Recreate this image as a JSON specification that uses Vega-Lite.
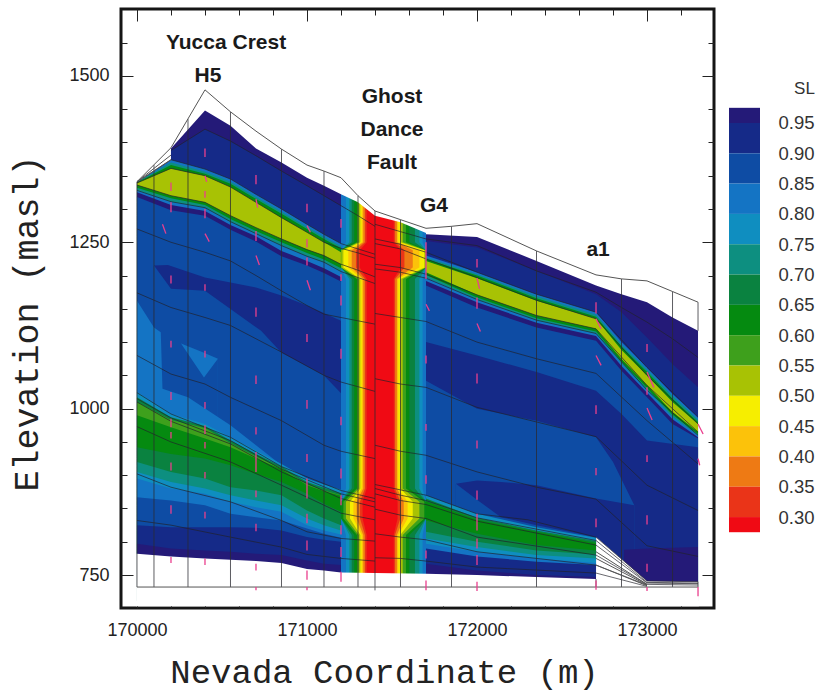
{"$schema":"https://vega.github.io/schema/vega-lite/v6.json","padding":{"left":7,"top":7,"right":0,"bottom":0},"background":"white","config":{"view":{"stroke":null},"font":"Liberation Sans"},
"datasets":{
"bands":[
{"g":"a0","sl":"0.975","x":170200,"y":1391},{"g":"a0","sl":"0.975","x":170400,"y":1448},{"g":"a0","sl":"0.975","x":170550,"y":1425},{"g":"a0","sl":"0.975","x":170700,"y":1391},{"g":"a0","sl":"0.975","x":170850,"y":1370},{"g":"a0","sl":"0.975","x":171000,"y":1347},{"g":"a0","sl":"0.975","x":171100,"y":1335},{"g":"a0","sl":"0.975","x":171200,"y":1322},
{"g":"a1","sl":"0.925","x":170200,"y":1388},{"g":"a1","sl":"0.925","x":170400,"y":1420},{"g":"a1","sl":"0.925","x":170550,"y":1402},{"g":"a1","sl":"0.925","x":170700,"y":1380},{"g":"a1","sl":"0.925","x":170850,"y":1357},{"g":"a1","sl":"0.925","x":171000,"y":1335},{"g":"a1","sl":"0.925","x":171100,"y":1320},{"g":"a1","sl":"0.925","x":171200,"y":1305},
{"g":"a2","sl":"0.825","x":170000,"y":1340},{"g":"a2","sl":"0.825","x":170200,"y":1374},{"g":"a2","sl":"0.825","x":170400,"y":1360},{"g":"a2","sl":"0.825","x":170550,"y":1345},{"g":"a2","sl":"0.825","x":170700,"y":1322},{"g":"a2","sl":"0.825","x":170850,"y":1300},{"g":"a2","sl":"0.825","x":171000,"y":1277},{"g":"a2","sl":"0.825","x":171100,"y":1262},{"g":"a2","sl":"0.825","x":171200,"y":1248},
{"g":"a3","sl":"0.725","x":170000,"y":1340},{"g":"a3","sl":"0.725","x":170200,"y":1370},{"g":"a3","sl":"0.725","x":170400,"y":1356},{"g":"a3","sl":"0.725","x":170550,"y":1341},{"g":"a3","sl":"0.725","x":170700,"y":1318},{"g":"a3","sl":"0.725","x":170850,"y":1296},{"g":"a3","sl":"0.725","x":171000,"y":1273},{"g":"a3","sl":"0.725","x":171100,"y":1258},{"g":"a3","sl":"0.725","x":171200,"y":1244},
{"g":"a4","sl":"0.625","x":170000,"y":1340},{"g":"a4","sl":"0.625","x":170200,"y":1366},{"g":"a4","sl":"0.625","x":170400,"y":1353},{"g":"a4","sl":"0.625","x":170550,"y":1338},{"g":"a4","sl":"0.625","x":170700,"y":1315},{"g":"a4","sl":"0.625","x":170850,"y":1293},{"g":"a4","sl":"0.625","x":171000,"y":1270},{"g":"a4","sl":"0.625","x":171100,"y":1255},{"g":"a4","sl":"0.625","x":171200,"y":1241},
{"g":"a5","sl":"0.525","x":170000,"y":1339},{"g":"a5","sl":"0.525","x":170200,"y":1361},{"g":"a5","sl":"0.525","x":170400,"y":1350},{"g":"a5","sl":"0.525","x":170550,"y":1333},{"g":"a5","sl":"0.525","x":170700,"y":1310},{"g":"a5","sl":"0.525","x":170850,"y":1287},{"g":"a5","sl":"0.525","x":171000,"y":1265},{"g":"a5","sl":"0.525","x":171100,"y":1250},{"g":"a5","sl":"0.525","x":171200,"y":1235},
{"g":"a6","sl":"0.625","x":170000,"y":1336},{"g":"a6","sl":"0.625","x":170200,"y":1320},{"g":"a6","sl":"0.625","x":170400,"y":1310},{"g":"a6","sl":"0.625","x":170550,"y":1290},{"g":"a6","sl":"0.625","x":170700,"y":1272},{"g":"a6","sl":"0.625","x":170850,"y":1255},{"g":"a6","sl":"0.625","x":171000,"y":1239},{"g":"a6","sl":"0.625","x":171100,"y":1230},{"g":"a6","sl":"0.625","x":171200,"y":1217},
{"g":"a7","sl":"0.725","x":170000,"y":1332},{"g":"a7","sl":"0.725","x":170200,"y":1316},{"g":"a7","sl":"0.725","x":170400,"y":1306},{"g":"a7","sl":"0.725","x":170550,"y":1285},{"g":"a7","sl":"0.725","x":170700,"y":1267},{"g":"a7","sl":"0.725","x":170850,"y":1250},{"g":"a7","sl":"0.725","x":171000,"y":1234},{"g":"a7","sl":"0.725","x":171100,"y":1224},{"g":"a7","sl":"0.725","x":171200,"y":1211},
{"g":"a8","sl":"0.825","x":170000,"y":1328},{"g":"a8","sl":"0.825","x":170200,"y":1311},{"g":"a8","sl":"0.825","x":170400,"y":1302},{"g":"a8","sl":"0.825","x":170550,"y":1281},{"g":"a8","sl":"0.825","x":170700,"y":1263},{"g":"a8","sl":"0.825","x":170850,"y":1245},{"g":"a8","sl":"0.825","x":171000,"y":1229},{"g":"a8","sl":"0.825","x":171100,"y":1220},{"g":"a8","sl":"0.825","x":171200,"y":1206},
{"g":"a9","sl":"0.975","x":170000,"y":1325},{"g":"a9","sl":"0.975","x":170200,"y":1306},{"g":"a9","sl":"0.975","x":170400,"y":1297},{"g":"a9","sl":"0.975","x":170550,"y":1276},{"g":"a9","sl":"0.975","x":170700,"y":1259},{"g":"a9","sl":"0.975","x":170850,"y":1237},{"g":"a9","sl":"0.975","x":171000,"y":1222},{"g":"a9","sl":"0.975","x":171100,"y":1211},{"g":"a9","sl":"0.975","x":171200,"y":1198},
{"g":"a10","sl":"0.875","x":170000,"y":1318},{"g":"a10","sl":"0.875","x":170200,"y":1298},{"g":"a10","sl":"0.875","x":170400,"y":1290},{"g":"a10","sl":"0.875","x":170550,"y":1269},{"g":"a10","sl":"0.875","x":170700,"y":1251},{"g":"a10","sl":"0.875","x":170850,"y":1229},{"g":"a10","sl":"0.875","x":171000,"y":1215},{"g":"a10","sl":"0.875","x":171100,"y":1204},{"g":"a10","sl":"0.875","x":171200,"y":1191},
{"g":"a11","sl":"0.925","x":170100,"y":1215},{"g":"a11","sl":"0.925","x":170182,"y":1216},{"g":"a11","sl":"0.925","x":170400,"y":1197},{"g":"a11","sl":"0.925","x":170700,"y":1182},{"g":"a11","sl":"0.925","x":170850,"y":1170},{"g":"a11","sl":"0.925","x":171000,"y":1155},{"g":"a11","sl":"0.925","x":171200,"y":1132},
{"g":"a12","sl":"0.875","x":170100,"y":1215},{"g":"a12","sl":"0.875","x":170200,"y":1180},{"g":"a12","sl":"0.875","x":170400,"y":1177},{"g":"a12","sl":"0.875","x":170730,"y":1117},{"g":"a12","sl":"0.875","x":170850,"y":1084},{"g":"a12","sl":"0.875","x":171100,"y":1050},{"g":"a12","sl":"0.875","x":171200,"y":1023},
{"g":"a13","sl":"0.825","x":170259,"y":1098},{"g":"a13","sl":"0.825","x":170394,"y":1084},{"g":"a13","sl":"0.825","x":170476,"y":1075},
{"g":"a14","sl":"0.875","x":170259,"y":1098},{"g":"a14","sl":"0.875","x":170394,"y":1047},{"g":"a14","sl":"0.875","x":170476,"y":1075},
{"g":"a15","sl":"0.825","x":170000,"y":1162},{"g":"a15","sl":"0.825","x":170100,"y":1122},{"g":"a15","sl":"0.825","x":170140,"y":1115},{"g":"a15","sl":"0.825","x":170150,"y":1030},{"g":"a15","sl":"0.825","x":170300,"y":1017},{"g":"a15","sl":"0.825","x":170550,"y":975},{"g":"a15","sl":"0.825","x":170700,"y":945},{"g":"a15","sl":"0.825","x":170850,"y":915},{"g":"a15","sl":"0.825","x":171000,"y":895},{"g":"a15","sl":"0.825","x":171100,"y":880},{"g":"a15","sl":"0.825","x":171200,"y":875},
{"g":"b0","sl":"0.775","x":170000,"y":1025},{"g":"b0","sl":"0.775","x":170200,"y":992},{"g":"b0","sl":"0.775","x":170400,"y":977},{"g":"b0","sl":"0.775","x":170550,"y":957},{"g":"b0","sl":"0.775","x":170700,"y":937},{"g":"b0","sl":"0.775","x":170850,"y":917},{"g":"b0","sl":"0.775","x":171000,"y":895},{"g":"b0","sl":"0.775","x":171100,"y":886},{"g":"b0","sl":"0.775","x":171200,"y":878},
{"g":"b1","sl":"0.675","x":170000,"y":1017},{"g":"b1","sl":"0.675","x":170200,"y":987},{"g":"b1","sl":"0.675","x":170400,"y":974},{"g":"b1","sl":"0.675","x":170550,"y":952},{"g":"b1","sl":"0.675","x":170700,"y":932},{"g":"b1","sl":"0.675","x":170850,"y":913},{"g":"b1","sl":"0.675","x":171000,"y":890},{"g":"b1","sl":"0.675","x":171100,"y":881},{"g":"b1","sl":"0.675","x":171200,"y":873},
{"g":"b2","sl":"0.575","x":170000,"y":1010},{"g":"b2","sl":"0.575","x":170200,"y":983},{"g":"b2","sl":"0.575","x":170400,"y":971},{"g":"b2","sl":"0.575","x":170550,"y":948},{"g":"b2","sl":"0.575","x":170700,"y":928},{"g":"b2","sl":"0.575","x":170850,"y":910},{"g":"b2","sl":"0.575","x":171000,"y":886},{"g":"b2","sl":"0.575","x":171100,"y":877},{"g":"b2","sl":"0.575","x":171200,"y":870},
{"g":"b3","sl":"0.625","x":170000,"y":990},{"g":"b3","sl":"0.625","x":170200,"y":972},{"g":"b3","sl":"0.625","x":170400,"y":955},{"g":"b3","sl":"0.625","x":170550,"y":942},{"g":"b3","sl":"0.625","x":170700,"y":925},{"g":"b3","sl":"0.625","x":170850,"y":909},{"g":"b3","sl":"0.625","x":171000,"y":885},{"g":"b3","sl":"0.625","x":171100,"y":876},{"g":"b3","sl":"0.625","x":171200,"y":869},
{"g":"b4","sl":"0.675","x":170000,"y":942},{"g":"b4","sl":"0.675","x":170200,"y":932},{"g":"b4","sl":"0.675","x":170400,"y":925},{"g":"b4","sl":"0.675","x":170550,"y":915},{"g":"b4","sl":"0.675","x":170700,"y":902},{"g":"b4","sl":"0.675","x":170850,"y":890},{"g":"b4","sl":"0.675","x":171000,"y":872},{"g":"b4","sl":"0.675","x":171100,"y":857},{"g":"b4","sl":"0.675","x":171200,"y":845},
{"g":"b5","sl":"0.725","x":170000,"y":920},{"g":"b5","sl":"0.725","x":170200,"y":905},{"g":"b5","sl":"0.725","x":170400,"y":895},{"g":"b5","sl":"0.725","x":170550,"y":882},{"g":"b5","sl":"0.725","x":170700,"y":877},{"g":"b5","sl":"0.725","x":170850,"y":870},{"g":"b5","sl":"0.725","x":171000,"y":847},{"g":"b5","sl":"0.725","x":171100,"y":835},{"g":"b5","sl":"0.725","x":171200,"y":825},
{"g":"b6","sl":"0.775","x":170000,"y":905},{"g":"b6","sl":"0.775","x":170200,"y":890},{"g":"b6","sl":"0.775","x":170400,"y":880},{"g":"b6","sl":"0.775","x":170550,"y":870},{"g":"b6","sl":"0.775","x":170700,"y":862},{"g":"b6","sl":"0.775","x":170850,"y":855},{"g":"b6","sl":"0.775","x":171000,"y":835},{"g":"b6","sl":"0.775","x":171100,"y":825},{"g":"b6","sl":"0.775","x":171200,"y":817},
{"g":"b7","sl":"0.825","x":170000,"y":895},{"g":"b7","sl":"0.825","x":170200,"y":880},{"g":"b7","sl":"0.825","x":170400,"y":872},{"g":"b7","sl":"0.825","x":170550,"y":860},{"g":"b7","sl":"0.825","x":170700,"y":852},{"g":"b7","sl":"0.825","x":170850,"y":845},{"g":"b7","sl":"0.825","x":171000,"y":825},{"g":"b7","sl":"0.825","x":171100,"y":817},{"g":"b7","sl":"0.825","x":171200,"y":811},
{"g":"b8","sl":"0.875","x":170000,"y":867},{"g":"b8","sl":"0.875","x":170200,"y":862},{"g":"b8","sl":"0.875","x":170400,"y":855},{"g":"b8","sl":"0.875","x":170550,"y":842},{"g":"b8","sl":"0.875","x":170700,"y":837},{"g":"b8","sl":"0.875","x":170850,"y":832},{"g":"b8","sl":"0.875","x":171000,"y":820},{"g":"b8","sl":"0.875","x":171100,"y":812},{"g":"b8","sl":"0.875","x":171200,"y":806},
{"g":"b9","sl":"0.925","x":170000,"y":825},{"g":"b9","sl":"0.925","x":170200,"y":822},{"g":"b9","sl":"0.925","x":170400,"y":822},{"g":"b9","sl":"0.925","x":170550,"y":822},{"g":"b9","sl":"0.925","x":170700,"y":821},{"g":"b9","sl":"0.925","x":170850,"y":817},{"g":"b9","sl":"0.925","x":171000,"y":807},{"g":"b9","sl":"0.925","x":171100,"y":803},{"g":"b9","sl":"0.925","x":171200,"y":800},
{"g":"b10","sl":"0.975","x":170000,"y":797},{"g":"b10","sl":"0.975","x":170200,"y":790},{"g":"b10","sl":"0.975","x":170400,"y":787},{"g":"b10","sl":"0.975","x":170550,"y":785},{"g":"b10","sl":"0.975","x":170700,"y":782},{"g":"b10","sl":"0.975","x":170850,"y":780},{"g":"b10","sl":"0.975","x":171000,"y":772},{"g":"b10","sl":"0.975","x":171100,"y":767},{"g":"b10","sl":"0.975","x":171200,"y":765},
{"g":"c0","sl":"0.975","x":171700,"y":1262},{"g":"c0","sl":"0.975","x":172000,"y":1258},{"g":"c0","sl":"0.975","x":172350,"y":1222},{"g":"c0","sl":"0.975","x":172700,"y":1185},{"g":"c0","sl":"0.975","x":172850,"y":1172},{"g":"c0","sl":"0.975","x":173000,"y":1160},{"g":"c0","sl":"0.975","x":173150,"y":1137},{"g":"c0","sl":"0.975","x":173300,"y":1117},
{"g":"c1","sl":"0.925","x":171700,"y":1252},{"g":"c1","sl":"0.925","x":172000,"y":1242},{"g":"c1","sl":"0.925","x":172350,"y":1207},{"g":"c1","sl":"0.925","x":172700,"y":1172},{"g":"c1","sl":"0.925","x":172850,"y":1145},{"g":"c1","sl":"0.925","x":173000,"y":1107},{"g":"c1","sl":"0.925","x":173150,"y":1067},{"g":"c1","sl":"0.925","x":173300,"y":1032},
{"g":"c2","sl":"0.825","x":171700,"y":1230},{"g":"c2","sl":"0.825","x":172000,"y":1205},{"g":"c2","sl":"0.825","x":172350,"y":1172},{"g":"c2","sl":"0.825","x":172700,"y":1145},{"g":"c2","sl":"0.825","x":172850,"y":1100},{"g":"c2","sl":"0.825","x":173000,"y":1062},{"g":"c2","sl":"0.825","x":173150,"y":1022},{"g":"c2","sl":"0.825","x":173300,"y":987},
{"g":"c3","sl":"0.725","x":171700,"y":1227},{"g":"c3","sl":"0.725","x":172000,"y":1202},{"g":"c3","sl":"0.725","x":172350,"y":1169},{"g":"c3","sl":"0.725","x":172700,"y":1141},{"g":"c3","sl":"0.725","x":172850,"y":1096},{"g":"c3","sl":"0.725","x":173000,"y":1058},{"g":"c3","sl":"0.725","x":173150,"y":1019},{"g":"c3","sl":"0.725","x":173300,"y":983},
{"g":"c4","sl":"0.625","x":171700,"y":1225},{"g":"c4","sl":"0.625","x":172000,"y":1200},{"g":"c4","sl":"0.625","x":172350,"y":1166},{"g":"c4","sl":"0.625","x":172700,"y":1138},{"g":"c4","sl":"0.625","x":172850,"y":1093},{"g":"c4","sl":"0.625","x":173000,"y":1055},{"g":"c4","sl":"0.625","x":173150,"y":1015},{"g":"c4","sl":"0.625","x":173300,"y":980},
{"g":"c5","sl":"0.525","x":171700,"y":1222},{"g":"c5","sl":"0.525","x":172000,"y":1196},{"g":"c5","sl":"0.525","x":172350,"y":1162},{"g":"c5","sl":"0.525","x":172700,"y":1135},{"g":"c5","sl":"0.525","x":172850,"y":1088},{"g":"c5","sl":"0.525","x":173000,"y":1050},{"g":"c5","sl":"0.525","x":173150,"y":1010},{"g":"c5","sl":"0.525","x":173300,"y":977},
{"g":"c6","sl":"0.625","x":171700,"y":1205},{"g":"c6","sl":"0.625","x":172000,"y":1171},{"g":"c6","sl":"0.625","x":172350,"y":1140},{"g":"c6","sl":"0.625","x":172700,"y":1120},{"g":"c6","sl":"0.625","x":172850,"y":1075},{"g":"c6","sl":"0.625","x":173000,"y":1035},{"g":"c6","sl":"0.625","x":173150,"y":995},{"g":"c6","sl":"0.625","x":173300,"y":965},
{"g":"c7","sl":"0.725","x":171700,"y":1201},{"g":"c7","sl":"0.725","x":172000,"y":1167},{"g":"c7","sl":"0.725","x":172350,"y":1136},{"g":"c7","sl":"0.725","x":172700,"y":1116},{"g":"c7","sl":"0.725","x":172850,"y":1071},{"g":"c7","sl":"0.725","x":173000,"y":1031},{"g":"c7","sl":"0.725","x":173150,"y":991},{"g":"c7","sl":"0.725","x":173300,"y":962},
{"g":"c8","sl":"0.825","x":171700,"y":1197},{"g":"c8","sl":"0.825","x":172000,"y":1164},{"g":"c8","sl":"0.825","x":172350,"y":1133},{"g":"c8","sl":"0.825","x":172700,"y":1113},{"g":"c8","sl":"0.825","x":172850,"y":1068},{"g":"c8","sl":"0.825","x":173000,"y":1028},{"g":"c8","sl":"0.825","x":173150,"y":988},{"g":"c8","sl":"0.825","x":173300,"y":960},
{"g":"c9","sl":"0.975","x":171700,"y":1192},{"g":"c9","sl":"0.975","x":172000,"y":1160},{"g":"c9","sl":"0.975","x":172350,"y":1129},{"g":"c9","sl":"0.975","x":172700,"y":1109},{"g":"c9","sl":"0.975","x":172850,"y":1064},{"g":"c9","sl":"0.975","x":173000,"y":1024},{"g":"c9","sl":"0.975","x":173150,"y":984},{"g":"c9","sl":"0.975","x":173300,"y":957},
{"g":"c10","sl":"0.875","x":171700,"y":1185},{"g":"c10","sl":"0.875","x":172000,"y":1152},{"g":"c10","sl":"0.875","x":172350,"y":1122},{"g":"c10","sl":"0.875","x":172700,"y":1102},{"g":"c10","sl":"0.875","x":172850,"y":1057},{"g":"c10","sl":"0.875","x":173000,"y":1017},{"g":"c10","sl":"0.875","x":173150,"y":977},{"g":"c10","sl":"0.875","x":173300,"y":955},
{"g":"c11","sl":"0.925","x":171700,"y":1100},{"g":"c11","sl":"0.925","x":172000,"y":1080},{"g":"c11","sl":"0.925","x":172350,"y":1055},{"g":"c11","sl":"0.925","x":172700,"y":1027},{"g":"c11","sl":"0.925","x":172850,"y":992},{"g":"c11","sl":"0.925","x":173000,"y":952},{"g":"c11","sl":"0.925","x":173300,"y":942},
{"g":"c12","sl":"0.875","x":171700,"y":1042},{"g":"c12","sl":"0.875","x":172000,"y":1000},{"g":"c12","sl":"0.875","x":172350,"y":982},{"g":"c12","sl":"0.875","x":172700,"y":957},{"g":"c12","sl":"0.875","x":172800,"y":920},{"g":"c12","sl":"0.875","x":172925,"y":855},
{"g":"c13","sl":"0.925","x":171876,"y":887},{"g":"c13","sl":"0.925","x":172000,"y":892},{"g":"c13","sl":"0.925","x":172141,"y":890},{"g":"c13","sl":"0.925","x":172350,"y":885},{"g":"c13","sl":"0.925","x":172700,"y":865},{"g":"c13","sl":"0.925","x":172925,"y":855},
{"g":"c14","sl":"0.875","x":171876,"y":887},{"g":"c14","sl":"0.875","x":172000,"y":863},{"g":"c14","sl":"0.875","x":172141,"y":837},{"g":"c14","sl":"0.875","x":172350,"y":825},{"g":"c14","sl":"0.875","x":172700,"y":807},
{"g":"c15","sl":"0.975","x":172865,"y":788},{"g":"c15","sl":"0.975","x":173000,"y":790},{"g":"c15","sl":"0.975","x":173300,"y":792},
{"g":"d0","sl":"0.775","x":171700,"y":870},{"g":"d0","sl":"0.775","x":172000,"y":842},{"g":"d0","sl":"0.775","x":172350,"y":822},{"g":"d0","sl":"0.775","x":172700,"y":806},
{"g":"d1","sl":"0.675","x":171700,"y":865},{"g":"d1","sl":"0.675","x":172000,"y":836},{"g":"d1","sl":"0.675","x":172350,"y":817},{"g":"d1","sl":"0.675","x":172700,"y":801},
{"g":"d2","sl":"0.625","x":171700,"y":861},{"g":"d2","sl":"0.625","x":172000,"y":833},{"g":"d2","sl":"0.625","x":172350,"y":815},{"g":"d2","sl":"0.625","x":172700,"y":798},
{"g":"d3","sl":"0.675","x":171700,"y":832},{"g":"d3","sl":"0.675","x":172000,"y":812},{"g":"d3","sl":"0.675","x":172350,"y":795},{"g":"d3","sl":"0.675","x":172700,"y":787},
{"g":"d4","sl":"0.725","x":171700,"y":815},{"g":"d4","sl":"0.725","x":172000,"y":800},{"g":"d4","sl":"0.725","x":172350,"y":787},{"g":"d4","sl":"0.725","x":172700,"y":781},
{"g":"d5","sl":"0.775","x":171700,"y":805},{"g":"d5","sl":"0.775","x":172000,"y":792},{"g":"d5","sl":"0.775","x":172350,"y":780},{"g":"d5","sl":"0.775","x":172700,"y":775},
{"g":"d6","sl":"0.825","x":171700,"y":797},{"g":"d6","sl":"0.825","x":172000,"y":785},{"g":"d6","sl":"0.825","x":172350,"y":775},{"g":"d6","sl":"0.825","x":172700,"y":768},
{"g":"d7","sl":"0.925","x":171700,"y":790},{"g":"d7","sl":"0.925","x":172000,"y":778},{"g":"d7","sl":"0.925","x":172350,"y":770},{"g":"d7","sl":"0.925","x":172700,"y":765},
{"g":"d8","sl":"0.975","x":171700,"y":767},{"g":"d8","sl":"0.975","x":172000,"y":757},{"g":"d8","sl":"0.975","x":172350,"y":750},{"g":"d8","sl":"0.975","x":172700,"y":747}
],
"fault":[
{"sl":"0.825","y":1340,"x1":171200,"x2":171700},{"sl":"0.825","y":710,"x1":171200,"x2":171700},
{"sl":"0.775","y":1340,"x1":171229,"x2":171680},{"sl":"0.775","y":1250,"x1":171229,"x2":171680},{"sl":"0.775","y":1238,"x1":171200,"x2":171700},{"sl":"0.775","y":1212,"x1":171200,"x2":171700},{"sl":"0.775","y":1195,"x1":171229,"x2":171680},{"sl":"0.775","y":880,"x1":171229,"x2":171680},{"sl":"0.775","y":860,"x1":171200,"x2":171700},{"sl":"0.775","y":835,"x1":171200,"x2":171700},{"sl":"0.775","y":810,"x1":171229,"x2":171680},{"sl":"0.775","y":710,"x1":171229,"x2":171680},
{"sl":"0.725","y":1340,"x1":171249,"x2":171661},{"sl":"0.725","y":1250,"x1":171249,"x2":171661},{"sl":"0.725","y":1238,"x1":171200,"x2":171700},{"sl":"0.725","y":1212,"x1":171200,"x2":171700},{"sl":"0.725","y":1195,"x1":171249,"x2":171661},{"sl":"0.725","y":880,"x1":171249,"x2":171661},{"sl":"0.725","y":860,"x1":171200,"x2":171700},{"sl":"0.725","y":835,"x1":171200,"x2":171700},{"sl":"0.725","y":810,"x1":171249,"x2":171661},{"sl":"0.725","y":710,"x1":171249,"x2":171661},
{"sl":"0.675","y":1340,"x1":171263,"x2":171635},{"sl":"0.675","y":1250,"x1":171263,"x2":171635},{"sl":"0.675","y":1238,"x1":171200,"x2":171700},{"sl":"0.675","y":1212,"x1":171200,"x2":171700},{"sl":"0.675","y":1195,"x1":171263,"x2":171635},{"sl":"0.675","y":880,"x1":171263,"x2":171635},{"sl":"0.675","y":860,"x1":171200,"x2":171700},{"sl":"0.675","y":835,"x1":171200,"x2":171700},{"sl":"0.675","y":810,"x1":171263,"x2":171635},{"sl":"0.675","y":710,"x1":171263,"x2":171635},
{"sl":"0.625","y":1340,"x1":171278,"x2":171602},{"sl":"0.625","y":1250,"x1":171278,"x2":171602},{"sl":"0.625","y":1238,"x1":171200,"x2":171700},{"sl":"0.625","y":1212,"x1":171200,"x2":171700},{"sl":"0.625","y":1195,"x1":171278,"x2":171602},{"sl":"0.625","y":880,"x1":171278,"x2":171602},{"sl":"0.625","y":860,"x1":171201,"x2":171699},{"sl":"0.625","y":835,"x1":171201,"x2":171699},{"sl":"0.625","y":810,"x1":171278,"x2":171602},{"sl":"0.625","y":710,"x1":171278,"x2":171602},
{"sl":"0.575","y":1340,"x1":171294,"x2":171582},{"sl":"0.575","y":1250,"x1":171294,"x2":171582},{"sl":"0.575","y":1238,"x1":171200,"x2":171700},{"sl":"0.575","y":1212,"x1":171200,"x2":171700},{"sl":"0.575","y":1195,"x1":171294,"x2":171582},{"sl":"0.575","y":880,"x1":171294,"x2":171582},{"sl":"0.575","y":860,"x1":171214,"x2":171690},{"sl":"0.575","y":835,"x1":171214,"x2":171690},{"sl":"0.575","y":810,"x1":171294,"x2":171582},{"sl":"0.575","y":710,"x1":171294,"x2":171582},
{"sl":"0.525","y":1340,"x1":171304,"x2":171563},{"sl":"0.525","y":1250,"x1":171304,"x2":171563},{"sl":"0.525","y":1238,"x1":171202,"x2":171698},{"sl":"0.525","y":1212,"x1":171202,"x2":171698},{"sl":"0.525","y":1195,"x1":171304,"x2":171563},{"sl":"0.525","y":880,"x1":171304,"x2":171563},{"sl":"0.525","y":860,"x1":171229,"x2":171661},{"sl":"0.525","y":835,"x1":171229,"x2":171661},{"sl":"0.525","y":810,"x1":171304,"x2":171563},{"sl":"0.525","y":710,"x1":171304,"x2":171563},
{"sl":"0.475","y":1340,"x1":171314,"x2":171549},{"sl":"0.475","y":1250,"x1":171314,"x2":171549},{"sl":"0.475","y":1238,"x1":171214,"x2":171690},{"sl":"0.475","y":1212,"x1":171214,"x2":171690},{"sl":"0.475","y":1195,"x1":171314,"x2":171549},{"sl":"0.475","y":880,"x1":171314,"x2":171549},{"sl":"0.475","y":860,"x1":171253,"x2":171622},{"sl":"0.475","y":835,"x1":171253,"x2":171622},{"sl":"0.475","y":810,"x1":171314,"x2":171549},{"sl":"0.475","y":710,"x1":171314,"x2":171549},
{"sl":"0.425","y":1340,"x1":171322,"x2":171537},{"sl":"0.425","y":1250,"x1":171322,"x2":171537},{"sl":"0.425","y":1238,"x1":171243,"x2":171661},{"sl":"0.425","y":1212,"x1":171243,"x2":171661},{"sl":"0.425","y":1195,"x1":171322,"x2":171537},{"sl":"0.425","y":880,"x1":171322,"x2":171537},{"sl":"0.425","y":860,"x1":171273,"x2":171592},{"sl":"0.425","y":835,"x1":171273,"x2":171592},{"sl":"0.425","y":810,"x1":171322,"x2":171537},{"sl":"0.425","y":710,"x1":171322,"x2":171537},
{"sl":"0.375","y":1340,"x1":171331,"x2":171529},{"sl":"0.375","y":1250,"x1":171331,"x2":171529},{"sl":"0.375","y":1238,"x1":171263,"x2":171622},{"sl":"0.375","y":1212,"x1":171263,"x2":171622},{"sl":"0.375","y":1195,"x1":171331,"x2":171529},{"sl":"0.375","y":880,"x1":171331,"x2":171529},{"sl":"0.375","y":860,"x1":171292,"x2":171569},{"sl":"0.375","y":835,"x1":171292,"x2":171569},{"sl":"0.375","y":810,"x1":171331,"x2":171529},{"sl":"0.375","y":710,"x1":171331,"x2":171529},
{"sl":"0.325","y":1340,"x1":171341,"x2":171518},{"sl":"0.325","y":1250,"x1":171341,"x2":171518},{"sl":"0.325","y":1238,"x1":171288,"x2":171573},{"sl":"0.325","y":1212,"x1":171288,"x2":171573},{"sl":"0.325","y":1195,"x1":171341,"x2":171518},{"sl":"0.325","y":880,"x1":171341,"x2":171518},{"sl":"0.325","y":860,"x1":171312,"x2":171549},{"sl":"0.325","y":835,"x1":171312,"x2":171549},{"sl":"0.325","y":810,"x1":171341,"x2":171518},{"sl":"0.325","y":710,"x1":171341,"x2":171518},
{"sl":"0.29","y":1340,"x1":171351,"x2":171510},{"sl":"0.29","y":1250,"x1":171351,"x2":171510},{"sl":"0.29","y":1238,"x1":171310,"x2":171553},{"sl":"0.29","y":1212,"x1":171310,"x2":171553},{"sl":"0.29","y":1195,"x1":171351,"x2":171510},{"sl":"0.29","y":880,"x1":171351,"x2":171510},{"sl":"0.29","y":860,"x1":171327,"x2":171533},{"sl":"0.29","y":835,"x1":171327,"x2":171533},{"sl":"0.29","y":810,"x1":171351,"x2":171510},{"sl":"0.29","y":710,"x1":171351,"x2":171510}
],
"mask":[{"x":169995,"y":782},{"x":170000,"y":782},{"x":170200,"y":778},{"x":170400,"y":775},{"x":170550,"y":773},{"x":170700,"y":771},{"x":170850,"y":768},{"x":171000,"y":759},{"x":171100,"y":757},{"x":171200,"y":754},{"x":171700,"y":752},{"x":172000,"y":750},{"x":172350,"y":747},{"x":172700,"y":744},{"x":172701,"y":807},{"x":173000,"y":741},{"x":173300,"y":740},{"x":173305,"y":740}],
"cap":[{"x":171200,"y":1322},{"x":171300,"y":1310},{"x":171400,"y":1290},{"x":171550,"y":1280},{"x":171700,"y":1264}],
"outline":[
{"s":"top","x":170000,"y":1341},{"s":"top","x":170200,"y":1392},{"s":"top","x":170400,"y":1479},{"s":"top","x":170550,"y":1446},{"s":"top","x":170700,"y":1417},{"s":"top","x":170850,"y":1390},{"s":"top","x":171000,"y":1366},{"s":"top","x":171100,"y":1357},{"s":"top","x":171200,"y":1347},{"s":"top","x":171300,"y":1320},{"s":"top","x":171400,"y":1297},{"s":"top","x":171550,"y":1284},{"s":"top","x":171700,"y":1271},{"s":"top","x":171850,"y":1274},{"s":"top","x":172000,"y":1278},{"s":"top","x":172350,"y":1237},{"s":"top","x":172700,"y":1201},{"s":"top","x":172850,"y":1195},{"s":"top","x":173000,"y":1192},{"s":"top","x":173150,"y":1176},{"s":"top","x":173300,"y":1160},
{"s":"f1","x":170000,"y":1341},{"s":"f1","x":170200,"y":1374},{"s":"f2","x":170000,"y":1341},{"s":"f2","x":170200,"y":1381},
{"s":"bot","x":170000,"y":732},{"s":"bot","x":173300,"y":732},
{"s":"f3","x":172700,"y":785},{"s":"f3","x":173000,"y":736},{"s":"f4","x":172700,"y":775},{"s":"f4","x":173000,"y":735},{"s":"f5","x":172700,"y":765},{"s":"f5","x":173000,"y":734}
],
"grid":[{"x":170000,"y":1341,"y2":732},{"x":170100,"y":1366,"y2":732},{"x":170300,"y":1435,"y2":732},{"x":170550,"y":1446,"y2":732},{"x":170850,"y":1390,"y2":732},{"x":171100,"y":1357,"y2":732},{"x":171300,"y":1320,"y2":732},{"x":171400,"y":1297,"y2":727},{"x":171550,"y":1284,"y2":732},{"x":171850,"y":1274,"y2":732},{"x":172350,"y":1237,"y2":732},{"x":172700,"y":744,"y2":732},{"x":172850,"y":1195,"y2":732},{"x":173150,"y":1176,"y2":732},{"x":173300,"y":1160,"y2":1117},{"x":173300,"y":740,"y2":732}],
"contours":[
{"s":"A","x":170200,"y":1388},{"s":"A","x":170400,"y":1420},{"s":"A","x":170550,"y":1402},{"s":"A","x":170700,"y":1380},{"s":"A","x":170850,"y":1357},{"s":"A","x":171000,"y":1335},{"s":"A","x":171100,"y":1320},{"s":"A","x":171200,"y":1305},{"s":"A","x":171300,"y":1290},{"s":"A","x":171400,"y":1274},
{"s":"B","x":170000,"y":1340},{"s":"B","x":170200,"y":1374},{"s":"B","x":170400,"y":1360},{"s":"B","x":170550,"y":1345},{"s":"B","x":170700,"y":1322},{"s":"B","x":170850,"y":1300},{"s":"B","x":171000,"y":1277},{"s":"B","x":171100,"y":1262},{"s":"B","x":171200,"y":1248},{"s":"B","x":171300,"y":1240},{"s":"B","x":171400,"y":1232},
{"s":"C","x":170000,"y":1339},{"s":"C","x":170200,"y":1361},{"s":"C","x":170400,"y":1350},{"s":"C","x":170550,"y":1333},{"s":"C","x":170700,"y":1310},{"s":"C","x":170850,"y":1287},{"s":"C","x":171000,"y":1265},{"s":"C","x":171100,"y":1250},{"s":"C","x":171200,"y":1241},{"s":"C","x":171300,"y":1234},{"s":"C","x":171400,"y":1226},
{"s":"D","x":170000,"y":1336},{"s":"D","x":170200,"y":1320},{"s":"D","x":170400,"y":1310},{"s":"D","x":170550,"y":1290},{"s":"D","x":170700,"y":1272},{"s":"D","x":170850,"y":1255},{"s":"D","x":171000,"y":1239},{"s":"D","x":171100,"y":1230},{"s":"D","x":171200,"y":1217},{"s":"D","x":171300,"y":1208},{"s":"D","x":171400,"y":1198},
{"s":"E","x":170000,"y":1328},{"s":"E","x":170200,"y":1311},{"s":"E","x":170400,"y":1302},{"s":"E","x":170550,"y":1281},{"s":"E","x":170700,"y":1263},{"s":"E","x":170850,"y":1245},{"s":"E","x":171000,"y":1229},{"s":"E","x":171100,"y":1220},{"s":"E","x":171200,"y":1206},{"s":"E","x":171300,"y":1197},{"s":"E","x":171400,"y":1188},
{"s":"F","x":170000,"y":1270},{"s":"F","x":170200,"y":1250},{"s":"F","x":170400,"y":1235},{"s":"F","x":170550,"y":1222},{"s":"F","x":170700,"y":1200},{"s":"F","x":170850,"y":1177},{"s":"F","x":171000,"y":1155},{"s":"F","x":171100,"y":1142},{"s":"F","x":171200,"y":1137},{"s":"F","x":171400,"y":1127},
{"s":"G","x":170000,"y":1174},{"s":"G","x":170200,"y":1152},{"s":"G","x":170400,"y":1137},{"s":"G","x":170550,"y":1125},{"s":"G","x":170850,"y":1085},{"s":"G","x":171100,"y":1050},{"s":"G","x":171200,"y":1040},{"s":"G","x":171400,"y":1026},
{"s":"H","x":170000,"y":1080},{"s":"H","x":170200,"y":1052},{"s":"H","x":170400,"y":1037},{"s":"H","x":170550,"y":1017},{"s":"H","x":170850,"y":982},{"s":"H","x":171100,"y":945},{"s":"H","x":171200,"y":936},{"s":"H","x":171400,"y":925},
{"s":"I","x":170000,"y":1024},{"s":"I","x":170200,"y":992},{"s":"I","x":170550,"y":957},{"s":"I","x":170850,"y":913},{"s":"I","x":171200,"y":877},{"s":"I","x":171400,"y":865},
{"s":"J","x":170000,"y":1015},{"s":"J","x":170200,"y":986},{"s":"J","x":170550,"y":952},{"s":"J","x":170850,"y":909},{"s":"J","x":171200,"y":872},{"s":"J","x":171400,"y":860},
{"s":"K","x":170000,"y":1010},{"s":"K","x":170200,"y":981},{"s":"K","x":170550,"y":947},{"s":"K","x":170850,"y":905},{"s":"K","x":171200,"y":865},{"s":"K","x":171400,"y":852},
{"s":"L","x":170000,"y":973},{"s":"L","x":170200,"y":950},{"s":"L","x":170550,"y":920},{"s":"L","x":170850,"y":885},{"s":"L","x":171200,"y":843},{"s":"L","x":171400,"y":833},
{"s":"M","x":170000,"y":902},{"s":"M","x":170200,"y":882},{"s":"M","x":170550,"y":860},{"s":"M","x":170850,"y":832},{"s":"M","x":171000,"y":815},{"s":"M","x":171200,"y":805},{"s":"M","x":171400,"y":801},
{"s":"N","x":170000,"y":832},{"s":"N","x":170200,"y":825},{"s":"N","x":170550,"y":807},{"s":"N","x":170850,"y":792},{"s":"N","x":171000,"y":781},{"s":"N","x":171200,"y":775},{"s":"N","x":171400,"y":771},
{"s":"Ra","x":171400,"y":1277},{"s":"Ra","x":171550,"y":1266},{"s":"Ra","x":171700,"y":1255},{"s":"Ra","x":172000,"y":1245},{"s":"Ra","x":172350,"y":1207},{"s":"Ra","x":172700,"y":1175},{"s":"Ra","x":172850,"y":1152},{"s":"Ra","x":173000,"y":1130},{"s":"Ra","x":173150,"y":1105},{"s":"Ra","x":173300,"y":1077},
{"s":"Rb","x":171400,"y":1255},{"s":"Rb","x":171550,"y":1247},{"s":"Rb","x":171700,"y":1235},{"s":"Rb","x":172000,"y":1205},{"s":"Rb","x":172350,"y":1172},{"s":"Rb","x":172700,"y":1145},{"s":"Rb","x":173000,"y":1062},{"s":"Rb","x":173300,"y":987},
{"s":"Rc","x":171400,"y":1248},{"s":"Rc","x":171550,"y":1240},{"s":"Rc","x":171700,"y":1225},{"s":"Rc","x":172000,"y":1197},{"s":"Rc","x":172350,"y":1163},{"s":"Rc","x":172700,"y":1135},{"s":"Rc","x":173000,"y":1050},{"s":"Rc","x":173300,"y":977},
{"s":"Rd","x":171400,"y":1217},{"s":"Rd","x":171550,"y":1212},{"s":"Rd","x":171700,"y":1202},{"s":"Rd","x":172000,"y":1171},{"s":"Rd","x":172350,"y":1140},{"s":"Rd","x":172700,"y":1120},{"s":"Rd","x":173000,"y":1035},{"s":"Rd","x":173300,"y":965},
{"s":"Re","x":171400,"y":1210},{"s":"Re","x":171550,"y":1205},{"s":"Re","x":171700,"y":1196},{"s":"Re","x":172000,"y":1164},{"s":"Re","x":172350,"y":1133},{"s":"Re","x":172700,"y":1113},{"s":"Re","x":173000,"y":1028},{"s":"Re","x":173300,"y":960},
{"s":"Rf","x":171400,"y":1143},{"s":"Rf","x":171550,"y":1137},{"s":"Rf","x":171700,"y":1131},{"s":"Rf","x":172000,"y":1100},{"s":"Rf","x":172350,"y":1075},{"s":"Rf","x":172700,"y":1053},{"s":"Rf","x":173000,"y":982},{"s":"Rf","x":173300,"y":917},
{"s":"Rg","x":171400,"y":1045},{"s":"Rg","x":171550,"y":1037},{"s":"Rg","x":171700,"y":1032},{"s":"Rg","x":172000,"y":1002},{"s":"Rg","x":172350,"y":980},{"s":"Rg","x":172700,"y":958},{"s":"Rg","x":173000,"y":885},{"s":"Rg","x":173300,"y":847},
{"s":"Rh","x":171400,"y":945},{"s":"Rh","x":171550,"y":936},{"s":"Rh","x":171700,"y":930},{"s":"Rh","x":172000,"y":905},{"s":"Rh","x":172350,"y":882},{"s":"Rh","x":172700,"y":864},{"s":"Rh","x":173000,"y":794},{"s":"Rh","x":173300,"y":778},
{"s":"Ri","x":171400,"y":886},{"s":"Ri","x":171550,"y":878},{"s":"Ri","x":171700,"y":870},{"s":"Ri","x":172000,"y":842},{"s":"Ri","x":172300,"y":833},{"s":"Ri","x":172700,"y":807},{"s":"Ri","x":173000,"y":741},{"s":"Ri","x":173300,"y":740},
{"s":"Rj","x":171400,"y":880},{"s":"Rj","x":171550,"y":870},{"s":"Rj","x":171700,"y":862},{"s":"Rj","x":172000,"y":836},{"s":"Rj","x":172700,"y":802},{"s":"Rj","x":173000,"y":739},{"s":"Rj","x":173300,"y":738},
{"s":"Rk","x":171400,"y":872},{"s":"Rk","x":171550,"y":862},{"s":"Rk","x":171700,"y":856},{"s":"Rk","x":172000,"y":831},{"s":"Rk","x":172700,"y":795},{"s":"Rk","x":173000,"y":738},{"s":"Rk","x":173300,"y":737},
{"s":"Rl","x":171400,"y":849},{"s":"Rl","x":171550,"y":840},{"s":"Rl","x":171700,"y":835},{"s":"Rl","x":172000,"y":807},{"s":"Rl","x":172700,"y":780},{"s":"Rl","x":173000,"y":736},{"s":"Rl","x":173300,"y":735},
{"s":"Rm","x":171400,"y":812},{"s":"Rm","x":171550,"y":807},{"s":"Rm","x":171700,"y":803},{"s":"Rm","x":172000,"y":785},{"s":"Rm","x":172700,"y":765},{"s":"Rm","x":173000,"y":735},
{"s":"Rn","x":171400,"y":776},{"s":"Rn","x":171550,"y":775},{"s":"Rn","x":171700,"y":771},{"s":"Rn","x":172000,"y":762},{"s":"Rn","x":172700,"y":753},{"s":"Rn","x":173000,"y":733}
],
"flow":[
{"x":170200,"x2":170200,"y":1340,"y2":1327},{"x":170200,"x2":170200,"y":1310,"y2":1295},{"x":170150,"x2":170170,"y":1277,"y2":1263},{"x":170200,"x2":170200,"y":1200,"y2":1188},{"x":170200,"x2":170200,"y":1102,"y2":1092},{"x":170200,"x2":170200,"y":1025,"y2":1013},{"x":170200,"x2":170200,"y":985,"y2":972},{"x":170200,"x2":170200,"y":965,"y2":955},{"x":170200,"x2":170200,"y":919,"y2":907},{"x":170200,"x2":170200,"y":855,"y2":842},{"x":170200,"x2":170200,"y":777,"y2":768},
{"x":170400,"x2":170400,"y":1391,"y2":1378},{"x":170400,"x2":170410,"y":1350,"y2":1341},{"x":170400,"x2":170400,"y":1327,"y2":1317},{"x":170400,"x2":170400,"y":1300,"y2":1286},{"x":170400,"x2":170425,"y":1263,"y2":1251},{"x":170400,"x2":170400,"y":1187,"y2":1177},{"x":170400,"x2":170400,"y":1087,"y2":1077},{"x":170400,"x2":170400,"y":1010,"y2":1000},{"x":170400,"x2":170400,"y":975,"y2":962},{"x":170400,"x2":170400,"y":950,"y2":940},{"x":170400,"x2":170400,"y":905,"y2":895},{"x":170400,"x2":170400,"y":845,"y2":835},{"x":170400,"x2":170400,"y":775,"y2":765},
{"x":170700,"x2":170700,"y":1351,"y2":1337},{"x":170700,"x2":170710,"y":1315,"y2":1302},{"x":170700,"x2":170700,"y":1267,"y2":1252},{"x":170700,"x2":170720,"y":1230,"y2":1216},{"x":170700,"x2":170700,"y":1152,"y2":1138},{"x":170700,"x2":170700,"y":1050,"y2":1037},{"x":170700,"x2":170700,"y":972,"y2":961},{"x":170700,"x2":170700,"y":935,"y2":905},{"x":170700,"x2":170700,"y":877,"y2":867},{"x":170700,"x2":170700,"y":827,"y2":816},{"x":170700,"x2":170700,"y":767,"y2":757},{"x":170700,"x2":170700,"y":732,"y2":727},
{"x":171000,"x2":171000,"y":1308,"y2":1295},{"x":171000,"x2":171020,"y":1275,"y2":1265},{"x":171000,"x2":171000,"y":1255,"y2":1242},{"x":171000,"x2":171000,"y":1227,"y2":1215},{"x":171000,"x2":171020,"y":1193,"y2":1178},{"x":171000,"x2":171000,"y":1112,"y2":1100},{"x":171000,"x2":171000,"y":1013,"y2":1000},{"x":171000,"x2":171000,"y":932,"y2":920},{"x":171000,"x2":171000,"y":895,"y2":865},{"x":171000,"x2":171000,"y":842,"y2":828},{"x":171000,"x2":171000,"y":802,"y2":787},{"x":171000,"x2":171000,"y":757,"y2":743},{"x":171000,"x2":171000,"y":732,"y2":727},
{"x":171200,"x2":171200,"y":1285,"y2":1272},{"x":171200,"x2":171200,"y":1202,"y2":1192},{"x":171200,"x2":171200,"y":1170,"y2":1155},{"x":171200,"x2":171200,"y":1090,"y2":1075},{"x":171200,"x2":171200,"y":988,"y2":975},{"x":171200,"x2":171200,"y":910,"y2":895},{"x":171200,"x2":171200,"y":870,"y2":855},{"x":171200,"x2":171200,"y":825,"y2":811},{"x":171200,"x2":171200,"y":792,"y2":777},{"x":171200,"x2":171200,"y":755,"y2":740},
{"x":171700,"x2":171700,"y":1250,"y2":1195},{"x":171700,"x2":171720,"y":1157,"y2":1147},{"x":171700,"x2":171700,"y":1080,"y2":1068},{"x":171700,"x2":171700,"y":977,"y2":967},{"x":171700,"x2":171700,"y":900,"y2":887},{"x":171700,"x2":171700,"y":787,"y2":775},{"x":171700,"x2":171700,"y":742,"y2":727},
{"x":172000,"x2":172000,"y":1225,"y2":1212},{"x":172000,"x2":172015,"y":1196,"y2":1180},{"x":172000,"x2":172000,"y":1167,"y2":1150},{"x":172000,"x2":172020,"y":1128,"y2":1116},{"x":172000,"x2":172000,"y":1053,"y2":1038},{"x":172000,"x2":172000,"y":952,"y2":940},{"x":172000,"x2":172000,"y":877,"y2":863},{"x":172000,"x2":172000,"y":842,"y2":817},{"x":172000,"x2":172000,"y":805,"y2":790},{"x":172000,"x2":172000,"y":780,"y2":765},{"x":172000,"x2":172000,"y":740,"y2":726},
{"x":172700,"x2":172700,"y":1160,"y2":1143},{"x":172700,"x2":172730,"y":1135,"y2":1120},{"x":172700,"x2":172730,"y":1080,"y2":1065},{"x":172700,"x2":172700,"y":1005,"y2":992},{"x":172700,"x2":172700,"y":911,"y2":900},{"x":172700,"x2":172700,"y":835,"y2":822},{"x":172700,"x2":172700,"y":742,"y2":728},
{"x":173000,"x2":173000,"y":1097,"y2":1085},{"x":173000,"x2":173040,"y":1055,"y2":1032},{"x":173000,"x2":173000,"y":1032,"y2":1021},{"x":173000,"x2":173030,"y":1001,"y2":983},{"x":173000,"x2":173000,"y":930,"y2":920},{"x":173000,"x2":173000,"y":840,"y2":826},{"x":173000,"x2":173000,"y":767,"y2":755},{"x":173000,"x2":173000,"y":732,"y2":726},
{"x":173300,"x2":173330,"y":977,"y2":962},{"x":173300,"x2":173310,"y":925,"y2":915},{"x":173300,"x2":173300,"y":732,"y2":718}
],
"notes":[{"t":"Yucca Crest","x":170524,"y":1549},{"t":"H5","x":170418,"y":1500},{"t":"Ghost","x":171500,"y":1468},{"t":"Dance","x":171500,"y":1419},{"t":"Fault","x":171500,"y":1369},{"t":"G4","x":171747,"y":1305},{"t":"a1","x":172712,"y":1239}],
"legend":[{"sl":"0.975","lo":0.95,"hi":0.975},{"sl":"0.925","lo":0.90,"hi":0.95},{"sl":"0.875","lo":0.85,"hi":0.90},{"sl":"0.825","lo":0.80,"hi":0.85},{"sl":"0.775","lo":0.75,"hi":0.80},{"sl":"0.725","lo":0.70,"hi":0.75},{"sl":"0.675","lo":0.65,"hi":0.70},{"sl":"0.625","lo":0.60,"hi":0.65},{"sl":"0.575","lo":0.55,"hi":0.60},{"sl":"0.525","lo":0.50,"hi":0.55},{"sl":"0.475","lo":0.45,"hi":0.50},{"sl":"0.425","lo":0.40,"hi":0.45},{"sl":"0.375","lo":0.35,"hi":0.40},{"sl":"0.325","lo":0.30,"hi":0.35},{"sl":"0.29","lo":0.275,"hi":0.30}]
},
"spacing":13,
"hconcat":[
{"width":593,"height":599,"view":{"stroke":"#151515","strokeWidth":3},"resolve":{"axis":{"x":"independent","y":"independent"}},
"layer":[
{"data":{"name":"bands"},"mark":{"type":"area","interpolate":"linear"},"encoding":{
"x":{"field":"x","type":"quantitative","scale":{"domain":[169906,173394],"nice":false,"zero":false},"axis":{"orient":"bottom","values":[170000,170200,170400,170600,170800,171000,171200,171400,171600,171800,172000,172200,172400,172600,172800,173000,173200],"labelExpr":"datum.value % 1000 === 0 ? format(datum.value,'d') : ''","tickSize":{"condition":{"test":"datum.value % 1000 === 0","value":-12},"value":-6},"tickColor":"#222","domain":false,"grid":false,"labelFont":"Liberation Sans","labelFontSize":18,"labelColor":"#222","labelPadding":25,"labelFlush":false,"labelOverlap":false,"title":"Nevada Coordinate (m)","titleFont":"Liberation Mono","titleFontSize":34,"titleFontWeight":"normal","titleColor":"#222","titleX":263,"titleY":64,"titleBaseline":"middle","encode":{"labels":{"update":{"dx":{"signal":"datum.value===171000?-8:datum.value===172000?-13:datum.value===173000?-18:0"}}}}}},
"y":{"field":"y","type":"quantitative","scale":{"domain":[700.5,1600.5],"nice":false,"zero":false},"axis":{"orient":"left","values":[750,800,850,900,950,1000,1050,1100,1150,1200,1250,1300,1350,1400,1450,1500,1550],"labelExpr":"datum.value % 250 === 0 ? format(datum.value,'d') : ''","tickSize":{"condition":{"test":"datum.value % 250 === 0","value":-12},"value":-6},"tickColor":"#222","domain":false,"grid":false,"labelFont":"Liberation Sans","labelFontSize":18,"labelColor":"#222","labelPadding":24,"labelOverlap":false,"title":"Elevation (masl)","titleFont":"Liberation Mono","titleFontSize":35,"titleFontWeight":"normal","titleColor":"#222","titleX":-77,"titleY":314}},
"y2":{"datum":710},
"detail":{"field":"g"},
"color":{"field":"sl","type":"nominal","legend":null,"scale":{"domain":["0.975","0.925","0.875","0.825","0.775","0.725","0.675","0.625","0.575","0.525","0.475","0.425","0.375","0.325","0.29"],"range":["#241a78","#152a88","#0e4ca4","#1474c4","#0f8ec0","#0d8f80","#0a8240","#058a10","#3ea01c","#a8c204","#f6ee00","#fcc20a","#ee7a14","#ea3418","#f00a14"]}}}},
{"data":{"name":"fault"},"mark":{"type":"area","orient":"horizontal"},"encoding":{
"x":{"field":"x1","type":"quantitative","axis":null,"title":null},"x2":{"field":"x2"},"y":{"field":"y","type":"quantitative","axis":null,"title":null},
"color":{"field":"sl","type":"nominal","legend":null}}},
{"data":{"name":"cap"},"mark":{"type":"area","color":"white"},"encoding":{"x":{"field":"x","type":"quantitative","axis":null},"y":{"field":"y","type":"quantitative","axis":null},"y2":{"datum":1400}}},
{"data":{"name":"mask"},"mark":{"type":"area","color":"white"},"encoding":{"x":{"field":"x","type":"quantitative","axis":null},"y":{"field":"y","type":"quantitative","axis":null},"y2":{"datum":703}}},
{"data":{"name":"contours"},"mark":{"type":"line","color":"#20202a","strokeWidth":0.8,"opacity":0.85},"encoding":{"x":{"field":"x","type":"quantitative","axis":null},"y":{"field":"y","type":"quantitative","axis":null},"detail":{"field":"s"}}},
{"data":{"name":"grid"},"mark":{"type":"rule","color":"#2a2a30","strokeWidth":0.9,"opacity":0.85},"encoding":{"x":{"field":"x","type":"quantitative","axis":null},"y":{"field":"y","type":"quantitative","axis":null},"y2":{"field":"y2"}}},
{"data":{"name":"outline"},"mark":{"type":"line","color":"#555","strokeWidth":1},"encoding":{"x":{"field":"x","type":"quantitative","axis":null},"y":{"field":"y","type":"quantitative","axis":null},"detail":{"field":"s"}}},
{"data":{"name":"flow"},"mark":{"type":"rule","color":"#ea3f8e","strokeWidth":1.3},"encoding":{"x":{"field":"x","type":"quantitative","axis":null},"x2":{"field":"x2"},"y":{"field":"y","type":"quantitative","axis":null},"y2":{"field":"y2"}}},
{"data":{"name":"notes"},"mark":{"type":"text","font":"Liberation Sans","fontWeight":"bold","fontSize":21,"color":"#1a1a1a","baseline":"middle","align":"center"},"encoding":{"x":{"field":"x","type":"quantitative","axis":{"orient":"top","values":[170000,170200,170400,170600,170800,171000,171200,171400,171600,171800,172000,172200,172400,172600,172800,173000,173200],"labels":false,"title":null,"domain":false,"grid":false,"tickColor":"#222","tickSize":{"condition":{"test":"datum.value % 1000 === 0","value":-12},"value":-6}}},"y":{"field":"y","type":"quantitative","axis":{"orient":"right","values":[750,800,850,900,950,1000,1050,1100,1150,1200,1250,1300,1350,1400,1450,1500,1550],"labels":false,"title":null,"domain":false,"grid":false,"tickColor":"#222","tickSize":{"condition":{"test":"datum.value % 250 === 0","value":-12},"value":-6}}},"text":{"field":"t"}}}
]},
{"data":{"name":"legend"},"width":31,"height":599,"mark":{"type":"rect"},"encoding":{
"y":{"field":"lo","type":"quantitative","scale":{"domain":[0.15,1.138],"nice":false,"zero":false},"axis":{"orient":"right","values":[0.30,0.35,0.40,0.45,0.50,0.55,0.60,0.65,0.70,0.75,0.80,0.85,0.90,0.95],"format":".2f","domain":false,"ticks":false,"grid":false,"labelFont":"Liberation Sans","labelFontSize":18.5,"labelColor":"#333","labelPadding":18,"title":"SL","titleFont":"Liberation Sans","titleFontSize":17,"titleFontWeight":"normal","titleColor":"#333","titleAngle":0,"titleX":44,"titleY":79,"titleAlign":"center","titleBaseline":"middle"}},
"y2":{"field":"hi"},
"color":{"field":"sl","type":"nominal","legend":null,"scale":{"domain":["0.975","0.925","0.875","0.825","0.775","0.725","0.675","0.625","0.575","0.525","0.475","0.425","0.375","0.325","0.29"],"range":["#241a78","#152a88","#0e4ca4","#1474c4","#0f8ec0","#0d8f80","#0a8240","#058a10","#3ea01c","#a8c204","#f6ee00","#fcc20a","#ee7a14","#ea3418","#f00a14"]}}}}
]}
